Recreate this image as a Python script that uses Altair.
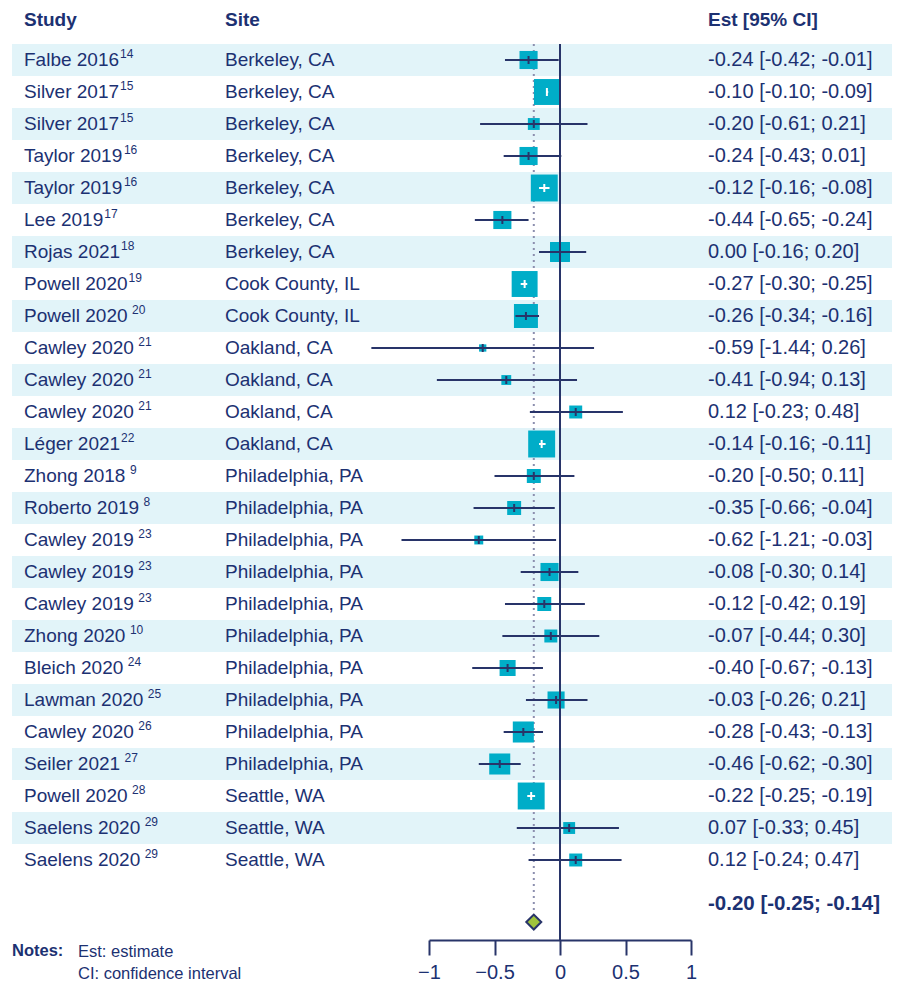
import math
import altair as alt
import pandas as pd

# ---------------- data ----------------
studies = ["Falbe 2016", "Silver 2017", "Silver 2017", "Taylor 2019", "Taylor 2019",
           "Lee 2019", "Rojas 2021", "Powell 2020", "Powell 2020", "Cawley 2020",
           "Cawley 2020", "Cawley 2020", "Léger 2021", "Zhong 2018", "Roberto 2019",
           "Cawley 2019", "Cawley 2019", "Cawley 2019", "Zhong 2020", "Bleich 2020",
           "Lawman 2020", "Cawley 2020", "Seiler 2021", "Powell 2020", "Saelens 2020",
           "Saelens 2020"]
refs = ["14", "15", "15", "16", "16", "17", "18", "19", "20", "21", "21", "21", "22",
        "9", "8", "23", "23", "23", "10", "24", "25", "26", "27", "28", "29", "29"]
# whether the reference number is set slightly apart from the study name
ref_spaced = [False, False, False, False, False, False, False, False, True, True,
              True, True, False, True, True, True, True, True, True, True, True, True,
              True, True, True, True]
sites = (["Berkeley, CA"] * 7 + ["Cook County, IL"] * 2 + ["Oakland, CA"] * 4
         + ["Philadelphia, PA"] * 10 + ["Seattle, WA"] * 3)
est = [-0.24, -0.10, -0.20, -0.24, -0.12, -0.44, 0.00, -0.27, -0.26, -0.59, -0.41, 0.12,
       -0.14, -0.20, -0.35, -0.62, -0.08, -0.12, -0.07, -0.40, -0.03, -0.28, -0.46, -0.22,
       0.07, 0.12]
lo = [-0.42, -0.10, -0.61, -0.43, -0.16, -0.65, -0.16, -0.30, -0.34, -1.44, -0.94, -0.23,
      -0.16, -0.50, -0.66, -1.21, -0.30, -0.42, -0.44, -0.67, -0.26, -0.43, -0.62, -0.25,
      -0.33, -0.24]
hi = [-0.01, -0.09, 0.21, 0.01, -0.08, -0.24, 0.20, -0.25, -0.16, 0.26, 0.13, 0.48,
      -0.11, 0.11, -0.04, -0.03, 0.14, 0.19, 0.30, -0.13, 0.21, -0.13, -0.30, -0.19,
      0.45, 0.47]
weights = [3.7, 7.6, 1.6, 3.7, 8.2, 3.7, 4.5, 7.6, 6.5, 0.6, 1.1, 1.9, 8.2, 2.2, 2.2,
           0.9, 3.7, 2.2, 1.9, 2.9, 3.3, 5.0, 5.0, 8.2, 1.6, 1.9]
pooled = [-0.20, -0.25, -0.14]
ticks = [-1, -0.5, 0, 0.5, 1]

# ---------------- styling ----------------
FONT = "Liberation Sans"
NAVY = "#1c3172"
LINE = "#283469"
BOX = "#00adc8"
BAND = "#e2f4f9"
DOT = "#8c8fae"
GREEN = "#a0c43c"
NAME_SIZE = 19
SUP_SIZE = 12
STUDY_X, SITE_X, EST_X = 16, 217, 700

# approximate advance widths (em) of the sans font, to place superscripts
CW = {"A": .667, "B": .667, "C": .722, "F": .611, "L": .556, "P": .667, "R": .722,
      "S": .667, "T": .611, "Z": .611, "a": .556, "b": .556, "c": .5, "e": .556,
      "é": .556, "g": .556, "h": .556, "i": .222, "j": .222, "l": .222, "m": .833,
      "n": .556, "o": .556, "r": .333, "s": .5, "t": .278, "v": .5, "w": .722,
      "y": .5, "z": .5, " ": .278}
KERN = {"Ta": -.074}


def text_w(s, size):
    w = sum(CW.get(ch, .556) for ch in s)
    w += sum(KERN.get(s[k:k + 2], 0) for k in range(len(s) - 1))
    return w * size


W, H = 884, 932
X_RANGE = [421, 683]
px_per_unit = (X_RANGE[1] - X_RANGE[0]) / 2.0
AREA_PER_W = 88.51

xs = alt.Scale(domain=[-1, 1], range=X_RANGE)
ys = alt.Scale(domain=[-1.625, 27.5], range=[0, H], nice=False, zero=False)
xaxis = alt.Axis(values=ticks, format="~g", title=None, grid=False, labelFlush=False,
                 domainColor=LINE, domainWidth=2, tickColor=LINE, tickWidth=2,
                 tickSize=15, labelFontSize=20, labelColor=NAVY, labelFont=FONT,
                 labelPadding=7)
yenc = lambda f: alt.Y(f, scale=ys, axis=None)

n = len(studies)
rows = []
for i in range(n):
    half = math.sqrt(weights[i] * AREA_PER_W) / 2 / px_per_unit
    inside = lo[i] >= est[i] - half and hi[i] <= est[i] + half
    rows.append(dict(
        i=i, study=studies[i], ref=refs[i], site=sites[i], est=est[i], lo=lo[i],
        hi=hi[i], w=weights[i], lc="white" if inside else LINE,
        supx=STUDY_X + text_w(studies[i], NAME_SIZE) + (4.5 if ref_spaced[i] else 1),
        label=f"{est[i]:.2f} [{lo[i]:.2f}; {hi[i]:.2f}]",
        y0=i - 0.5, y1=i + 0.5, band=(i % 2 == 0)))
df = pd.DataFrame(rows)
bands_df = df[df["band"]]

base = alt.Chart(df)

bands = alt.Chart(bands_df).mark_rect(color=BAND).encode(
    x=alt.value(4), x2=alt.value(W), y=yenc("y0:Q"), y2="y1:Q")

dotted = alt.Chart(pd.DataFrame({"v": [pooled[0]]})).mark_rule(
    color=DOT, strokeWidth=2, strokeDash=[2, 4]).encode(
    x=alt.X("v:Q", scale=xs, axis=xaxis),
    y=alt.Y(datum=-0.5, scale=ys, axis=None), y2=alt.Y2(datum=26.62))

squares = base.mark_square(color=BOX, opacity=1, strokeWidth=0).encode(
    x=alt.X("est:Q", scale=xs, axis=xaxis), y=yenc("i:Q"),
    size=alt.Size("w:Q", scale=alt.Scale(domain=[0, 100], range=[0, 100 * AREA_PER_W]),
                  legend=None))

zero = alt.Chart(pd.DataFrame({"v": [0]})).mark_rule(color=LINE, strokeWidth=2).encode(
    x=alt.X("v:Q", scale=xs, axis=xaxis),
    y=alt.Y(datum=-0.5, scale=ys, axis=None), y2=alt.Y2(datum=27.5))

ci = base.mark_rule(strokeWidth=2).encode(
    x=alt.X("lo:Q", scale=xs, axis=xaxis), x2="hi:Q", y=yenc("i:Q"),
    color=alt.Color("lc:N", scale=None))

est_tick = base.mark_tick(orient="vertical", size=8, thickness=2, opacity=1).encode(
    x=alt.X("est:Q", scale=xs, axis=xaxis), y=yenc("i:Q"),
    color=alt.Color("lc:N", scale=None))

diamond = alt.Chart(pd.DataFrame({"v": [pooled[0]]})).mark_point(
    shape="diamond", filled=True, size=225, fill=GREEN, stroke=LINE, strokeWidth=2,
    opacity=1).encode(
    x=alt.X("v:Q", scale=xs, axis=xaxis), y=alt.Y(datum=26.94, scale=ys, axis=None))

txt = dict(align="left", baseline="middle", font=FONT, color=NAVY)
study_t = base.mark_text(fontSize=NAME_SIZE, **txt).encode(
    x=alt.value(STUDY_X), y=yenc("i:Q"), text="study:N")
sup_t = base.mark_text(fontSize=SUP_SIZE, dy=-6, **txt).encode(
    x=alt.X("supx:Q", scale=None), y=yenc("i:Q"), text="ref:N")
site_t = base.mark_text(fontSize=NAME_SIZE, **txt).encode(
    x=alt.value(SITE_X), y=yenc("i:Q"), text="site:N")
est_t = base.mark_text(fontSize=20, **txt).encode(
    x=alt.value(EST_X), y=yenc("i:Q"), text="label:N")

headers = ["Study", "Site", "Est [95% CI]"]
header_x = [STUDY_X, SITE_X, EST_X]
head_layers = [
    alt.Chart(pd.DataFrame({"t": [h]})).mark_text(fontSize=19, fontWeight="bold", **txt)
    .encode(x=alt.value(hx), y=alt.Y(datum=-1.25, scale=ys, axis=None), text="t:N")
    for h, hx in zip(headers, header_x)
]

pooled_label = f"{pooled[0]:.2f} [{pooled[1]:.2f}; {pooled[2]:.2f}]"
summary = alt.Chart(pd.DataFrame({"t": [pooled_label]})).mark_text(
    fontSize=20.5, fontWeight="bold", **txt).encode(
    x=alt.value(EST_X), y=alt.Y(datum=26.375, scale=ys, axis=None), text="t:N")

notes_head = alt.Chart(pd.DataFrame({"t": ["Notes:"]})).mark_text(
    fontSize=16.5, fontWeight="bold", **txt).encode(
    x=alt.value(4), y=alt.Y(datum=27.84, scale=ys, axis=None), text="t:N")
notes_lines = ["Est: estimate", "CI: confidence interval"]
notes = alt.Chart(pd.DataFrame({"t": notes_lines, "r": [27.87, 28.55]})).mark_text(
    fontSize=16.5, **txt).encode(
    x=alt.value(70), y=alt.Y("r:Q", scale=ys, axis=None), text="t:N")

chart = alt.layer(
    bands, dotted, squares, zero, ci, est_tick, diamond,
    study_t, sup_t, site_t, est_t, *head_layers, summary, notes_head, notes
).properties(
    width=W, height=H, padding={"left": 0, "top": 0, "right": 0, "bottom": 0},
    background="white"
).configure_view(stroke=None)

chart.save("out.html", embed_options={"renderer": "svg", "actions": False})
